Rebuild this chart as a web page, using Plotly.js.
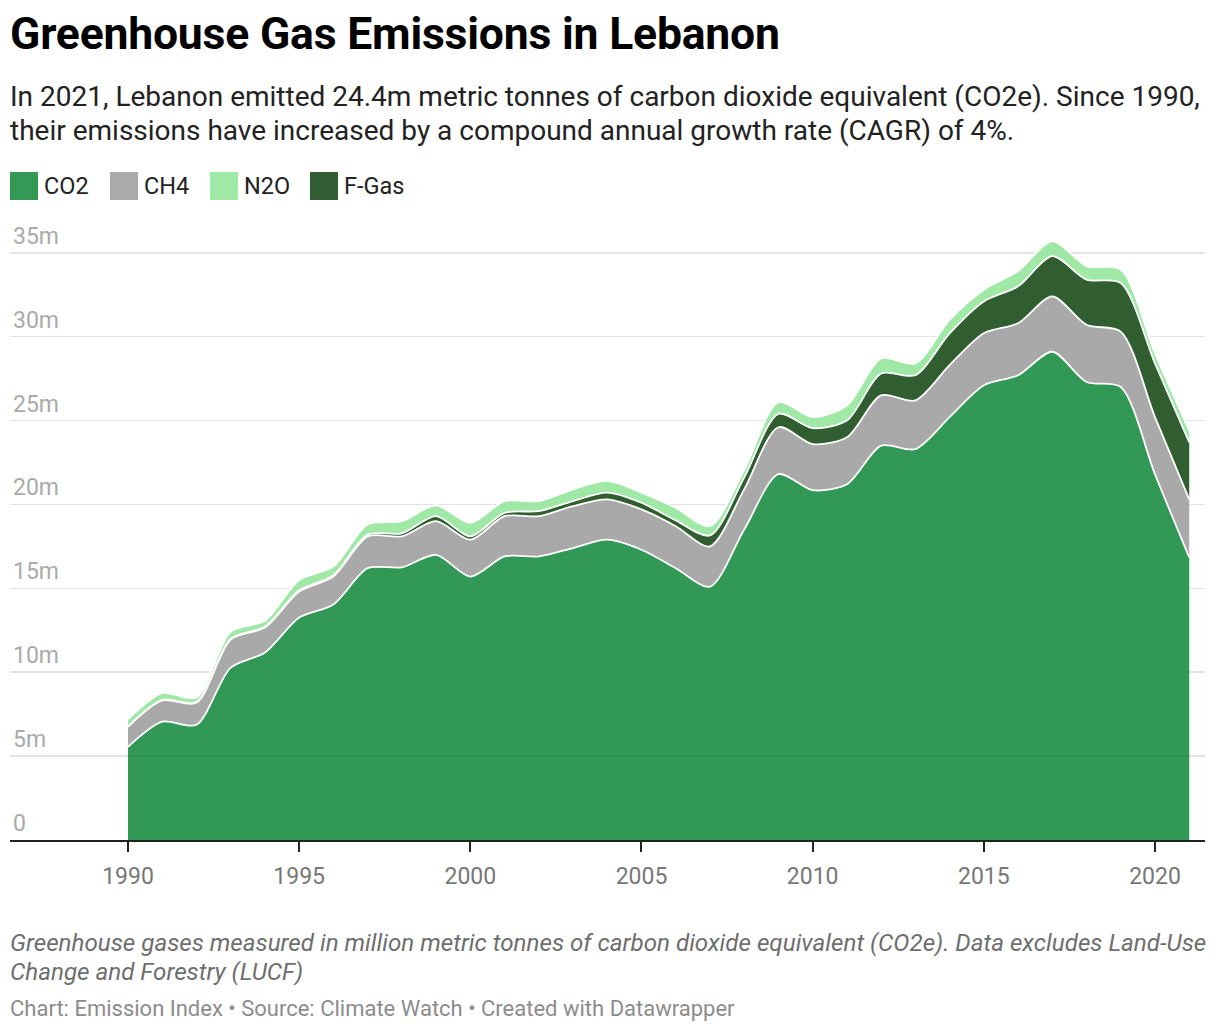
<!DOCTYPE html>
<html>
<head>
<meta charset="utf-8">
<script src="https://cdn.plot.ly/plotly-3.0.1.min.js"></script>
<style>
  body { margin: 0; background: #fff; font-family: Roboto, "Noto Sans", sans-serif; }
  #wrap { position: relative; width: 1220px; height: 1034px; overflow: hidden; }
  #chart { position: absolute; left: 0; top: 0; width: 1220px; height: 1034px; }
  .txt { position: absolute; left: 10px; white-space: nowrap; }
  #title { top: 8px; font-size: 44.5px; font-weight: 700; color: #000; letter-spacing: -0.2px; }
  #sub { top: 80px; font-size: 28px; line-height: 34px; color: #222; }
  #legend { top: 172px; left: 0; width: 600px; height: 28px; font-size: 23.5px; color: #222; }
  #legend .item { position: absolute; top: 0; display: flex; align-items: center; height: 28px; }
  #legend .sw { width: 28px; height: 28px; margin-right: 6px; }
  #note { top: 929px; font-size: 24.2px; line-height: 29px; font-style: italic; color: #6e6e6e; }
  #source { top: 996px; font-size: 22px; color: #8c8c8c; }
</style>
</head>
<body>
<div id="wrap">
  <div id="chart"></div>
  <div id="title" class="txt">Greenhouse Gas Emissions in Lebanon</div>
  <div id="sub" class="txt">In 2021, Lebanon emitted 24.4m metric tonnes of carbon dioxide equivalent (CO2e). Since 1990,<br>their emissions have increased by a compound annual growth rate (CAGR) of 4%.</div>
  <div id="legend" class="txt"></div>
  <div id="note" class="txt">Greenhouse gases measured in million metric tonnes of carbon dioxide equivalent (CO2e). Data excludes Land-Use<br>Change and Forestry (LUCF)</div>
  <div id="source" class="txt">Chart: Emission Index • Source: Climate Watch • Created with Datawrapper</div>
</div>
<script>
// values in million tonnes CO2e
const years = [1990, 1991, 1992, 1993, 1994, 1995, 1996, 1997, 1998, 1999,
               2000, 2001, 2002, 2003, 2004, 2005, 2006, 2007, 2008, 2009,
               2010, 2011, 2012, 2013, 2014, 2015, 2016, 2017, 2018, 2019,
               2020, 2021];
const co2  = [5.55, 7.05, 6.87, 10.27, 11.17, 13.26, 14.04, 16.2, 16.25, 17.0,
              15.7, 16.9, 16.9, 17.4, 17.9, 17.3, 16.2, 15.1, 18.5, 21.8,
              20.85, 21.2, 23.5, 23.3, 25.2, 27.1, 27.7, 29.1, 27.3, 27.0,
              21.8, 16.85];
const ch4  = [1.2, 1.27, 1.31, 1.68, 1.49, 1.55, 1.66, 1.9, 1.85, 2.0,
              2.2, 2.4, 2.4, 2.5, 2.4, 2.4, 2.5, 2.4, 2.4, 2.8,
              2.75, 2.8, 3.0, 2.9, 3.1, 3.1, 3.1, 3.3, 3.4, 3.3,
              3.4, 3.45];
const fgas = [0.02, 0.03, 0.04, 0.05, 0.06, 0.07, 0.08, 0.1, 0.18, 0.3,
              0.2, 0.2, 0.3, 0.3, 0.4, 0.4, 0.35, 0.65, 0.7, 0.8,
              0.95, 1.0, 1.3, 1.5, 1.9, 1.9, 2.2, 2.4, 2.7, 2.9,
              3.2, 3.4];
const n2o  = [0.43, 0.41, 0.27, 0.42, 0.34, 0.62, 0.52, 0.6, 0.72, 0.65,
              0.8, 0.7, 0.6, 0.7, 0.7, 0.6, 0.75, 0.55, 0.45, 0.7,
              0.65, 0.9, 0.9, 0.7, 0.8, 0.7, 0.9, 0.9, 0.8, 0.8,
              0.6, 0.7];

const yTicks = [0, 5, 10, 15, 20, 25, 30, 35];
const yTickText = ["0", "5m", "10m", "15m", "20m", "25m", "30m", "35m"];
const xTicks = [1990, 1995, 2000, 2005, 2010, 2015, 2020];

// stacking order bottom -> top, legend order is different
const gases = [
  { name: "CO2",   values: co2,  fill: "rgba(28,141,66,0.9)",   swatch: "#339955" },
  { name: "CH4",   values: ch4,  fill: "rgba(160,160,160,0.9)", swatch: "#aaaaaa" },
  { name: "F-Gas", values: fgas, fill: "rgba(27,76,27,0.9)",    swatch: "#335e33" },
  { name: "N2O",   values: n2o,  fill: "rgba(149,229,156,0.9)", swatch: "#a0e8a6" }
];
const legendOrder = ["CO2", "CH4", "N2O", "F-Gas"];
const legendLeft = [10, 110, 210, 310];

let data = gases.map(g => ({
  x: years,
  y: g.values,
  name: g.name,
  type: "scatter",
  mode: "lines",
  stackgroup: "ghg",
  fillcolor: g.fill,
  line: { color: "#ffffff", width: 1.8, shape: "spline", smoothing: 0.8 },
  hoverinfo: "skip"
}));

let layout = {
  width: 1220,
  height: 1034,
  margin: { l: 10, r: 15, t: 215, b: 194 },
  paper_bgcolor: "rgba(0,0,0,0)",
  plot_bgcolor: "rgba(0,0,0,0)",
  showlegend: false,
  font: { family: "Roboto, sans-serif" },
  xaxis: {
    range: [1986.553, 2021.461],
    tickvals: xTicks,
    ticks: "outside",
    ticklen: 10,
    tickwidth: 2,
    tickcolor: "#222",
    showline: true,
    linecolor: "#222",
    linewidth: 2,
    showgrid: false,
    zeroline: false,
    tickfont: { size: 23, color: "#777" },
    ticklabelstandoff: 4
  },
  yaxis: {
    range: [0, 37.25],
    tickvals: yTicks,
    ticktext: yTickText,
    ticklabelposition: "inside",
    ticklabelshift: -17,
    ticks: "",
    showline: false,
    showgrid: true,
    gridcolor: "#e3e3e3",
    gridwidth: 1.6,
    zeroline: false,
    tickfont: { size: 23, color: "#aaaaaa" }
  }
};

Plotly.newPlot("chart", data, layout, { staticPlot: true, displayModeBar: false });

// html legend in the reference order
let legendDiv = document.getElementById("legend");
legendOrder.forEach((name, i) => {
  let g = gases.find(d => d.name === name);
  let item = document.createElement("div");
  item.className = "item";
  item.style.left = legendLeft[i] + "px";
  item.innerHTML = '<div class="sw" style="background:' + g.swatch + '"></div><span>' + g.name + '</span>';
  legendDiv.appendChild(item);
});
</script>
</body>
</html>
